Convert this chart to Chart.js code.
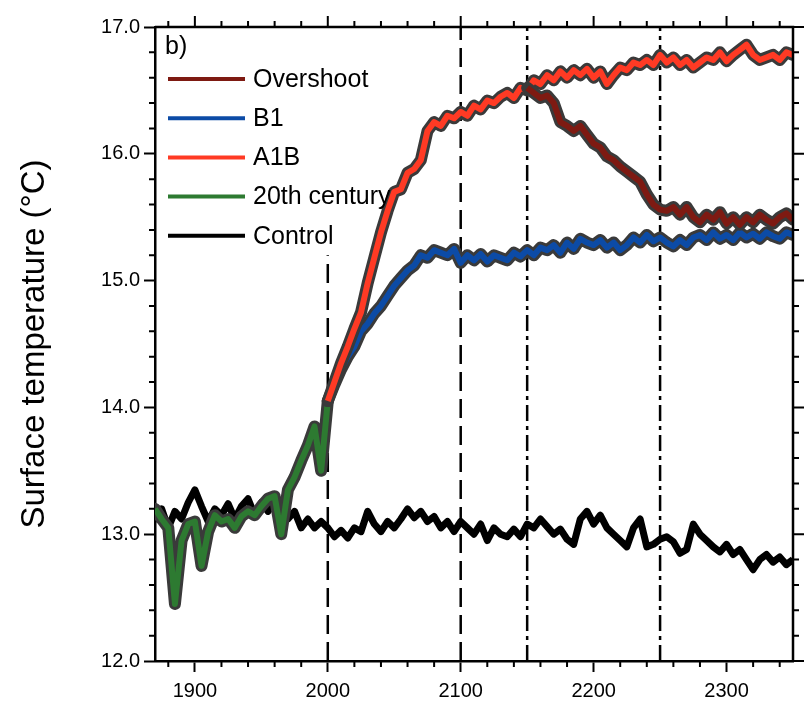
<!DOCTYPE html>
<html>
<head>
<meta charset="utf-8">
<script src="https://cdn.jsdelivr.net/npm/chart.js@4.4.1/dist/chart.umd.min.js"></script>
<style>
  html, body { margin: 0; padding: 0; background: #fff; }
  #wrap { width: 810px; height: 721px; }
</style>
</head>
<body>
<div id="wrap"><canvas id="myChart" width="810" height="721"></canvas></div>
<script>
// values, one every 5 years
var STEP = 5;

var controlStart = 1870;
var controlTemp = [
  13.10, 13.20, 13.05, 13.18, 13.12, 13.25, 13.35, 13.22, 13.10, 13.20,
  13.15, 13.24, 13.12, 13.22, 13.28, 13.15, 13.25, 13.18, 13.27, 13.22,
  13.12, 13.18, 13.05, 13.12, 13.05, 13.10, 13.05, 12.98, 13.03, 12.97,
  13.05, 13.02, 13.18, 13.08, 13.02, 13.10, 13.05, 13.12, 13.20, 13.13,
  13.18, 13.10, 13.14, 13.05, 13.10, 13.02, 13.10, 13.05, 13.00, 13.08,
  12.95, 13.05, 13.00, 12.98, 13.04, 12.98, 13.08, 13.05, 13.12, 13.06,
  13.00, 13.04, 12.96, 12.92, 13.12, 13.18, 13.08, 13.15, 13.05, 13.00,
  12.95, 12.90, 13.05, 13.12, 12.90, 12.92, 12.96, 12.98, 12.94, 12.85,
  12.88, 13.08, 13.00, 12.95, 12.90, 12.86, 12.92, 12.84, 12.88, 12.80,
  12.72, 12.80, 12.84, 12.78, 12.82, 12.76, 12.80
];

var c20Start = 1870;
var c20Temp = [
  13.20, 13.12, 13.05, 12.45, 12.95, 13.08, 13.10, 12.75, 13.02, 13.15,
  13.10, 13.12, 13.05, 13.14, 13.18, 13.15, 13.22, 13.28, 13.30, 13.00,
  13.35, 13.45, 13.58, 13.70, 13.85, 13.50, 14.05
];

var a1bStart = 2000;
var a1bTemp = [
  14.05, 14.20, 14.35, 14.48, 14.62, 14.75, 14.98, 15.18, 15.38, 15.55,
  15.70, 15.72, 15.85, 15.88, 15.95, 16.18, 16.25, 16.22, 16.30, 16.28,
  16.33, 16.30, 16.38, 16.35, 16.42, 16.40, 16.45, 16.48, 16.44, 16.52,
  16.50, 16.58, 16.55, 16.62, 16.58, 16.65, 16.60, 16.66, 16.62, 16.67,
  16.60, 16.65, 16.55, 16.62, 16.68, 16.66, 16.72, 16.70, 16.74, 16.70,
  16.78, 16.72, 16.76, 16.70, 16.74, 16.68, 16.72, 16.76, 16.74, 16.80,
  16.73, 16.78, 16.82, 16.86, 16.78, 16.74, 16.76, 16.78, 16.74, 16.80,
  16.78
];

var b1Start = 2000;
var b1Temp = [
  14.05, 14.18, 14.30, 14.40, 14.48, 14.60, 14.66, 14.74, 14.80, 14.88,
  14.96, 15.02, 15.08, 15.12, 15.20, 15.18, 15.24, 15.22, 15.20, 15.25,
  15.14, 15.20, 15.16, 15.21, 15.15, 15.20, 15.18, 15.16, 15.22, 15.19,
  15.24, 15.20, 15.26, 15.24, 15.28, 15.22, 15.30, 15.25, 15.33, 15.30,
  15.28, 15.32, 15.26, 15.30, 15.24, 15.28, 15.34, 15.30, 15.36, 15.31,
  15.34, 15.30, 15.27, 15.32, 15.28, 15.34, 15.36, 15.32, 15.38, 15.33,
  15.36, 15.32, 15.38, 15.34, 15.37, 15.33, 15.38, 15.35, 15.33, 15.38,
  15.36
];

var overStart = 2150;
var overTemp = [
  16.52, 16.48, 16.44, 16.46, 16.40, 16.25, 16.22, 16.18, 16.22, 16.15,
  16.08, 16.05, 15.98, 15.95, 15.90, 15.86, 15.82, 15.78, 15.68, 15.60,
  15.56, 15.55, 15.58, 15.52, 15.58, 15.50, 15.46, 15.52, 15.48, 15.54,
  15.45, 15.50, 15.44, 15.50, 15.46, 15.52, 15.48, 15.45, 15.50, 15.53,
  15.48
];

var xTickLabels = [1900, 2000, 2100, 2200, 2300];
var yTickLabels = [12, 13, 14, 15, 16, 17];

// vertical marker lines (year, top of line in degrees, style)
var markYears = [2000, 2100, 2150, 2250];
var markTops = [15.2, 17, 17, 17];
var markDash = ['dash', 'dash', 'dashdot', 'dashdot'];

var seriesNames = ['Overshoot', 'B1', 'A1B', '20th century', 'Control'];
var seriesColors = ['#7e1a12', '#0c4ba6', '#ff3a24', '#2d7a31', '#000000'];

var FONT = "'Liberation Sans', Arial, sans-serif";
var ENVELOPE = '#3a3a3a';

function toPoints(start, vals) {
  return vals.map(function (v, i) { return { x: start + i * STEP, y: v }; });
}

var datasets = [];

// dashed / dash-dot markers
for (var m = 0; m < markYears.length; m++) {
  datasets.push({
    data: [{ x: markYears[m], y: 12 }, { x: markYears[m], y: markTops[m] }],
    borderColor: '#000',
    borderWidth: 2.5,
    borderDash: markDash[m] === 'dash' ? [19, 8] : [16, 5, 4, 5],
    pointRadius: 0,
    order: 100
  });
}

function addSeries(idx, start, vals, order, withEnvelope, width) {
  var pts = toPoints(start, vals);
  if (withEnvelope) {
    datasets.push({
      data: pts,
      borderColor: ENVELOPE,
      borderWidth: width + 6,
      borderJoinStyle: 'round',
      borderCapStyle: 'round',
      pointRadius: 0,
      tension: 0,
      order: order + 1
    });
  }
  datasets.push({
    label: seriesNames[idx],
    data: pts,
    borderColor: seriesColors[idx],
    borderWidth: width,
    borderJoinStyle: 'round',
    pointRadius: 0,
    tension: 0,
    order: order
  });
}

addSeries(4, controlStart, controlTemp, 90, false, 7);
addSeries(3, c20Start, c20Temp, 80, true, 6);
addSeries(1, b1Start, b1Temp, 70, true, 6);
addSeries(2, a1bStart, a1bTemp, 60, true, 6);
addSeries(0, overStart, overTemp, 50, true, 6);

// frame on top/right, minor ticks, and the in-plot legend
var framePlugin = {
  id: 'frame',
  afterDraw: function (chart) {
    var ctx = chart.ctx, a = chart.chartArea;
    var xs = chart.scales.x, ys = chart.scales.y;
    ctx.save();
    ctx.strokeStyle = '#000';
    ctx.lineWidth = 2.5;
    ctx.beginPath();
    ctx.moveTo(a.left, a.top); ctx.lineTo(a.right, a.top); ctx.lineTo(a.right, a.bottom);
    ctx.stroke();

    ctx.lineWidth = 2;
    ctx.beginPath();
    for (var yr = 1880; yr <= 2340; yr += 20) {
      var px = xs.getPixelForValue(yr);
      var major = yr % 100 === 0;
      var len = major ? 11 : 6;
      if (!major) { ctx.moveTo(px, a.bottom); ctx.lineTo(px, a.bottom + len); }
      ctx.moveTo(px, a.top); ctx.lineTo(px, a.top - len);
    }
    for (var k = 0; k <= 25; k++) {
      var v = 12 + k * 0.2;
      var py = ys.getPixelForValue(v);
      var majorY = k % 5 === 0;
      var l = majorY ? 11 : 6;
      if (!majorY) { ctx.moveTo(a.left, py); ctx.lineTo(a.left - l, py); }
      ctx.moveTo(a.right, py); ctx.lineTo(a.right + l, py);
    }
    ctx.stroke();

    // legend
    ctx.fillStyle = '#000';
    ctx.font = '25px ' + FONT;
    ctx.textBaseline = 'middle';
    ctx.textAlign = 'left';
    ctx.fillText('b)', a.left + 10, a.top + 20);
    for (var i = 0; i < seriesNames.length; i++) {
      var ly = a.top + 52 + i * 39.2;
      ctx.strokeStyle = seriesColors[i];
      ctx.lineWidth = 4;
      ctx.beginPath();
      ctx.moveTo(a.left + 13, ly); ctx.lineTo(a.left + 90, ly);
      ctx.stroke();
      ctx.fillText(seriesNames[i], a.left + 98, ly + 1);
    }
    ctx.restore();
  }
};

var myChartRef = document.getElementById('myChart').getContext('2d');
new Chart(myChartRef, {
  type: 'line',
  data: { datasets: datasets },
  options: {
    responsive: false,
    animation: false,
    devicePixelRatio: 1,
    layout: { padding: { top: 27, right: 17, left: 0, bottom: 0 } },
    plugins: { legend: { display: false }, tooltip: { enabled: false } },
    scales: {
      x: {
        type: 'linear', min: 1870, max: 2350,
        afterBuildTicks: function (s) { s.ticks = xTickLabels.map(function (v) { return { value: v }; }); },
        afterFit: function (s) { s.height = 60; },
        ticks: {
          font: { family: FONT, size: 20 }, color: '#000', padding: 7, maxRotation: 0, autoSkip: false,
          callback: function (v) { return String(v); }
        },
        grid: { drawOnChartArea: false, tickLength: 11, tickWidth: 2, tickColor: '#000' },
        border: { display: true, color: '#000', width: 2.5 }
      },
      y: {
        type: 'linear', min: 12, max: 17,
        afterBuildTicks: function (s) { s.ticks = yTickLabels.map(function (v) { return { value: v }; }); },
        afterFit: function (s) { s.width = 155; },
        ticks: {
          font: { family: FONT, size: 20 }, color: '#000', padding: 4,
          callback: function (v) { return v.toFixed(1); }
        },
        grid: { drawOnChartArea: false, tickLength: 11, tickWidth: 2, tickColor: '#000' },
        border: { display: true, color: '#000', width: 2.5 },
        title: {
          display: true, text: 'Surface temperature (°C)', color: '#000',
          font: { family: FONT, size: 33 }, padding: { top: 15, bottom: 0 }
        }
      }
    }
  },
  plugins: [framePlugin]
});
</script>
</body>
</html>
